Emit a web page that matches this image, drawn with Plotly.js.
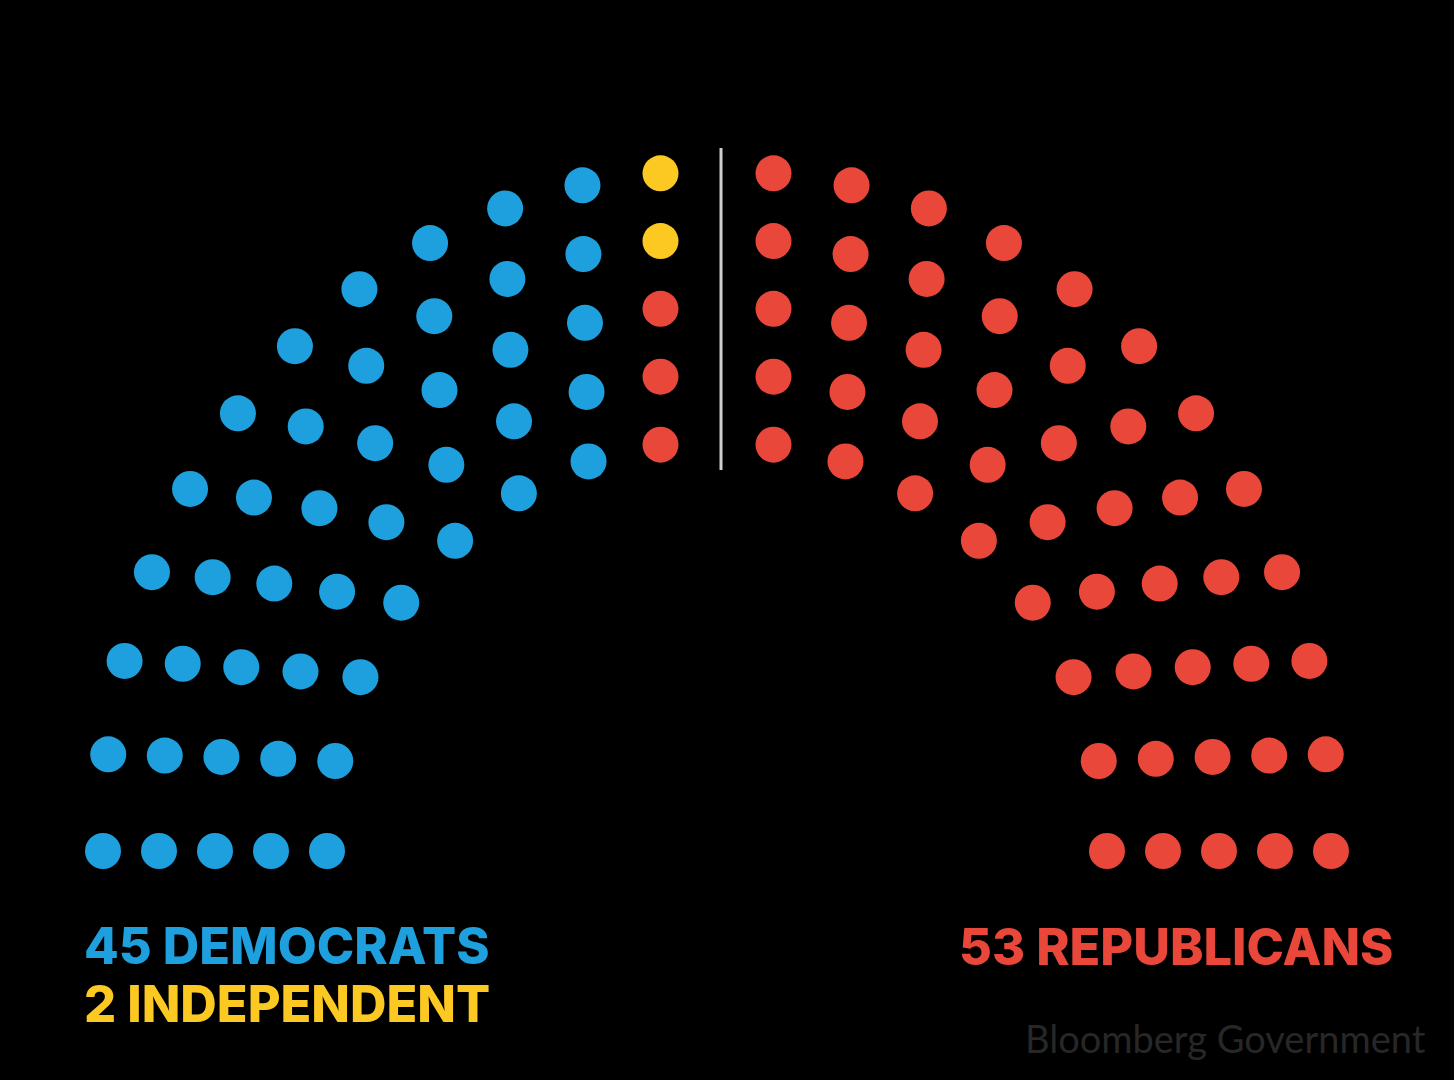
<!DOCTYPE html>
<html><head><meta charset="utf-8">
<script src="https://cdn.plot.ly/plotly-3.0.1.min.js"></script>
<style>html,body{margin:0;padding:0;background:#000;overflow:hidden}</style>
</head><body><div id="chart" style="width:1454px;height:1080px"></div>
<script>
// ---- data ----
const parties = ["DEMOCRATS", "INDEPENDENT", "REPUBLICANS"];
const seats = [45, 2, 53];
const partyColors = ["#1EA0DE", "#FCC822", "#E8473A"];
const seatsPerRow = [24, 22, 20, 18, 16];   // outer row first
const sourceText = "Bloomberg Government";

// ---- hemicycle geometry (layout only) ----
const W = 1454, H = 1080;
const cx = 717, cy = 851;
const a0 = 614, da = 56, b0 = 680, db = 67.5, expo = 2.07, gap = 56.5, taper = 0.18;

function ringPoint(a, b, t) {
  const c = Math.cos(t), s = Math.sin(t);
  return [cx - a * Math.pow(Math.abs(c), 2 / expo), cy - b * Math.pow(Math.abs(s), 2 / expo)];
}

const allSeats = [];
seatsPerRow.forEach((total, r) => {
  const a = a0 - da * r, b = b0 - db * r, n = total / 2;
  const N = 4000, pts = [], cum = [0];
  for (let i = 0; i <= N; i++) {
    const p = ringPoint(a, b, (Math.PI / 2) * i / N);
    pts.push(p);
    if (i > 0) cum.push(cum[i - 1] + Math.hypot(p[0] - pts[i - 1][0], p[1] - pts[i - 1][1]));
  }
  let iEnd = N;
  for (let i = 0; i <= N; i++) { if (pts[i][0] >= cx - gap) { iEnd = i; break; } }
  const L = cum[iEnd];
  // gaps shrink gently towards the top of the arch
  const w = [];
  for (let k = 0; k < n - 1; k++) w.push(1 - taper * k / (n - 2));
  const wSum = w.reduce((s, v) => s + v, 0);
  let acc = 0, j = 0;
  for (let k = 0; k < n; k++) {
    const target = L * acc / wSum;
    if (k < n - 1) acc += w[k];
    while (j < iEnd && cum[j] < target) j++;
    const p = pts[j];
    const xLeft = (k === n - 1) ? cx - gap : p[0];
    allSeats.push({x: xLeft, y: p[1]});
    allSeats.push({x: 2 * cx - xLeft, y: p[1]});
  }
});

allSeats.sort((p, q) => (Math.abs(p.x - q.x) > 1 ? p.x - q.x : p.y - q.y));

const traces = [];
let idx = 0;
parties.forEach((name, pi) => {
  const xs = [], ys = [];
  for (let k = 0; k < seats[pi]; k++, idx++) { xs.push(allSeats[idx].x); ys.push(allSeats[idx].y); }
  traces.push({
    type: "scatter", mode: "markers", name: name, x: xs, y: ys,
    marker: {size: 36, color: partyColors[pi], line: {width: 0}},
    hoverinfo: "name"
  });
});

const labelFont = (c) => ({family: "Inter, Lato, sans-serif", size: 50.5, color: c, weight: 800});

const layout = {
  width: W, height: H,
  margin: {l: 0, r: 0, t: 0, b: 0},
  paper_bgcolor: "#000", plot_bgcolor: "#000",
  showlegend: false,
  xaxis: {range: [0, W], visible: false, fixedrange: true},
  yaxis: {range: [H, 0], visible: false, fixedrange: true},
  shapes: [{
    type: "line", xref: "x", yref: "y",
    x0: cx + 4, x1: cx + 4, y0: cy - b0 - 23, y1: cy - b0 + 4 * db + 29,
    line: {color: "#cfcfcf", width: 3}
  }],
  annotations: [
    {xref: "x", yref: "y", x: 82, y: 945, xanchor: "left", yanchor: "middle", showarrow: false,
     text: seats[0] + " " + parties[0], font: labelFont(partyColors[0])},
    {xref: "x", yref: "y", x: 82, y: 1003, xanchor: "left", yanchor: "middle", showarrow: false,
     text: seats[1] + " " + parties[1], font: labelFont(partyColors[1])},
    {xref: "x", yref: "y", x: 1395, y: 946, xanchor: "right", yanchor: "middle", showarrow: false,
     text: seats[2] + " " + parties[2], font: labelFont(partyColors[2])},
    {xref: "x", yref: "y", x: 1428, y: 1038, xanchor: "right", yanchor: "middle", showarrow: false,
     text: sourceText, font: {family: "Lato, sans-serif", size: 38, color: "#272727"}}
  ]
};

Plotly.newPlot("chart", traces, layout, {displayModeBar: false, staticPlot: true});
</script></body></html>
